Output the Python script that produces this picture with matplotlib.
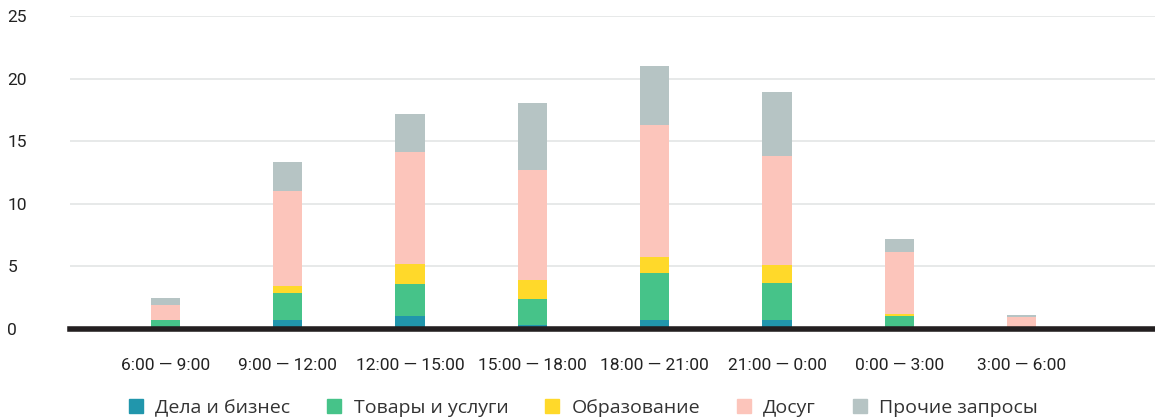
import numpy as np
import matplotlib as mpl
mpl.use('Agg')
import matplotlib.pyplot as plt
from matplotlib.patches import Patch

# time slots and query categories
slots = ["6:00 — 9:00", "9:00 — 12:00", "12:00 — 15:00", "15:00 — 18:00",
         "18:00 — 21:00", "21:00 — 0:00", "0:00 — 3:00", "3:00 — 6:00"]
business = [0.1, 0.7, 1.0, 0.3, 0.7, 0.7, 0.15, 0.0]
goods = [0.6, 2.2, 2.6, 2.1, 3.75, 2.95, 0.9, 0.0]
education = [0.0, 0.5, 1.6, 1.55, 1.3, 1.5, 0.15, 0.0]
leisure = [1.2, 7.6, 8.95, 8.75, 10.55, 8.7, 4.95, 0.95]
other = [0.55, 2.3, 3.05, 5.35, 4.7, 5.1, 1.05, 0.15]

names = ["Дела и бизнес", "Товары и услуги", "Образование", "Досуг", "Прочие запросы"]
colors = ["#2196ac", "#46c389", "#ffd92a", "#fcc5bb", "#b6c4c4"]
series = [business, goods, education, leisure, other]

fig = plt.figure(figsize=(11.55, 4.18), dpi=100)
ax = fig.add_axes([70 / 1155, 89 / 418, 1085 / 1155, 313 / 418])

x = np.arange(len(slots))
bottom = np.zeros(len(slots))
for vals, c in zip(series, colors):
    ax.bar(x, vals, width=0.24, bottom=bottom, color=c, zorder=2)
    bottom += np.array(vals)

ax.set_ylim(0, 25)
ax.set_xlim(-0.78, 8.09)
ax.set_yticks([0, 5, 10, 15, 20, 25])
ax.yaxis.grid(True, color="#e3e5e5", lw=1.2, zorder=0)
ax.axhline(0, color="#231f20", lw=4, zorder=3, clip_on=False)
for s in ax.spines.values():
    s.set_visible(False)

ax.set_xticks(x)
ax.set_xticklabels(slots, fontsize=12.5, color="#222222", family="Roboto")
ax.tick_params(axis="x", length=0, pad=21)
ax.tick_params(axis="y", length=0, pad=45, labelsize=12.5, labelcolor="#222222")
for lab in ax.get_yticklabels():
    lab.set_ha("left")
    lab.set_family("Roboto")

handles = [Patch(color=c) for c in colors]
fig.legend(handles, names, loc="lower center", bbox_to_anchor=(0.505, -0.04), ncol=5,
           frameon=False, handlelength=0.72, handleheight=0.72, handletextpad=0.65,
           columnspacing=1.88, prop={"family": "Open Sans", "size": 14})
for t in fig.legends[0].get_texts():
    t.set_color("#333333")

plt.savefig("out.png", dpi=100)
plt.close()
